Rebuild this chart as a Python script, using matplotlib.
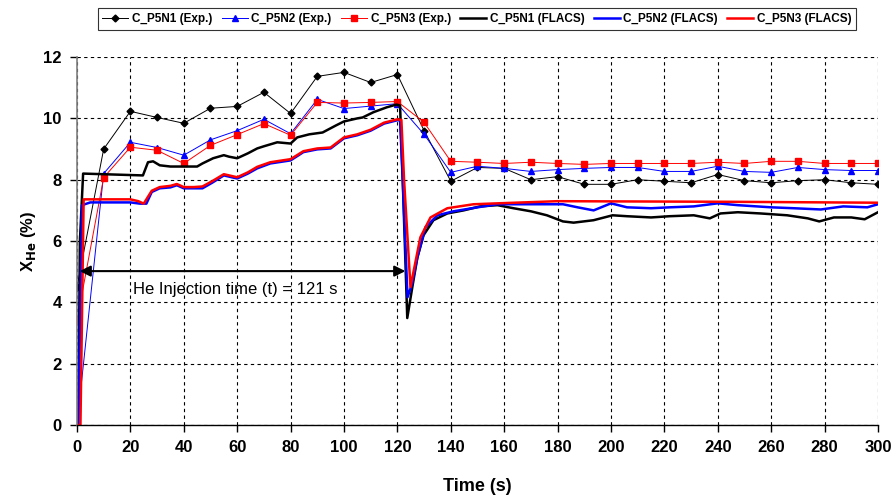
import matplotlib.pyplot as plt

plt.rcParams['font.family'] = ['Liberation Sans', 'DejaVu Sans']

# experimental points, every 10 s
t_exp = [0, 10, 20, 30, 40, 50, 60, 70, 80, 90, 100, 110, 120, 130, 140, 150,
         160, 170, 180, 190, 200, 210, 220, 230, 240, 250, 260, 270, 280, 290, 300]
n1_exp = [4.5, 9.0, 10.23, 10.03, 9.84, 10.33, 10.39, 10.85, 10.16, 11.37, 11.5,
          11.17, 11.43, 9.6, 7.95, 8.4, 8.37, 8.0, 8.1, 7.85, 7.85, 8.0, 7.95,
          7.9, 8.17, 7.97, 7.9, 7.97, 8.0, 7.9, 7.85]
n2_exp = [0.0, 8.2, 9.22, 9.05, 8.8, 9.3, 9.6, 9.97, 9.5, 10.62, 10.32, 10.4,
          10.48, 9.48, 8.24, 8.44, 8.37, 8.27, 8.33, 8.37, 8.4, 8.4, 8.27, 8.27,
          8.44, 8.27, 8.24, 8.4, 8.33, 8.3, 8.3]
n3_exp = [3.4, 8.07, 9.06, 8.96, 8.53, 9.12, 9.47, 9.83, 9.45, 10.52, 10.5, 10.52,
          10.55, 9.87, 8.6, 8.57, 8.53, 8.57, 8.53, 8.5, 8.53, 8.53, 8.53, 8.53,
          8.57, 8.53, 8.6, 8.6, 8.53, 8.53, 8.53]

# FLACS simulation
t_n1 = [0, 0.5, 1.1, 2.3, 24.7, 26.6, 28.5, 31, 35, 40, 45, 47, 51, 55, 57, 60,
        64, 67.5, 70, 75, 80, 82.5, 87, 92, 97, 100, 105, 107, 111, 116, 119.6,
        121, 122, 123.7, 125.6, 127.5, 129.8, 133.5, 138.7, 144.8, 151, 157.5,
        163.5, 170, 176, 182, 186, 193.5, 200.6, 206, 215, 222, 231, 237, 241,
        247.5, 256, 266, 273.7, 278, 283.5, 290, 295, 300]
n1_fl = [0, 0, 6.0, 8.2, 8.14, 8.57, 8.6, 8.47, 8.43, 8.43, 8.43, 8.53, 8.7, 8.8,
         8.75, 8.7, 8.86, 9.02, 9.09, 9.22, 9.18, 9.38, 9.48, 9.54, 9.77, 9.9,
         10.0, 10.03, 10.2, 10.36, 10.45, 10.42, 8.0, 3.49, 4.5, 5.47, 6.19,
         6.68, 6.9, 7.0, 7.13, 7.17, 7.07, 6.97, 6.84, 6.64, 6.6, 6.68, 6.84,
         6.81, 6.77, 6.81, 6.84, 6.74, 6.9, 6.94, 6.9, 6.84, 6.74, 6.64, 6.77,
         6.77, 6.71, 6.94]

t_n2 = [0, 0.5, 1.9, 5, 20, 23.6, 26, 28, 31, 35, 37.4, 40, 43.7, 47, 50.6, 55,
        60, 64, 67.5, 72.4, 80, 84.8, 90, 95, 100, 105, 110, 115, 120, 121, 122,
        123.8, 125.5, 127.5, 130.5, 135, 141, 150, 157.5, 170, 182, 187.5, 193.5,
        200, 206, 215, 222, 231, 240, 247.5, 260, 268.5, 278.6, 287, 296, 300]
n2_fl = [0, 0, 7.17, 7.26, 7.26, 7.22, 7.22, 7.6, 7.72, 7.75, 7.82, 7.72, 7.72,
         7.72, 7.9, 8.14, 8.04, 8.2, 8.37, 8.53, 8.63, 8.9, 8.99, 9.02, 9.35,
         9.45, 9.6, 9.83, 9.94, 9.94, 8.0, 4.17, 4.6, 5.47, 6.45, 6.84, 6.97,
         7.1, 7.2, 7.2, 7.2, 7.1, 7.0, 7.23, 7.1, 7.07, 7.1, 7.13, 7.23, 7.17,
         7.1, 7.07, 7.03, 7.13, 7.1, 7.2]

t_n3 = [0, 1.3, 2.5, 20, 23, 25, 28, 31, 35, 37.4, 40, 43.7, 47, 50.6, 55, 60,
        64, 67.5, 72.4, 80, 84.8, 90, 95, 100, 105, 110, 115, 120, 121.5, 122.5,
        124.9, 126.5, 128.6, 132.4, 138.7, 148.5, 157.5, 180, 245, 300]
n3_fl = [0, 0, 7.36, 7.36, 7.3, 7.22, 7.64, 7.76, 7.8, 7.86, 7.76, 7.76, 7.78,
         7.95, 8.18, 8.08, 8.24, 8.42, 8.57, 8.67, 8.93, 9.02, 9.05, 9.38, 9.48,
         9.63, 9.86, 9.97, 9.95, 8.0, 4.5, 5.2, 6.12, 6.77, 7.07, 7.2, 7.23,
         7.3, 7.28, 7.25]

fig = plt.figure(figsize=(8.95, 4.96), dpi=100)
ax = fig.add_axes([0.086, 0.143, 0.895, 0.742])

ax.plot(t_exp, n1_exp, color='black', lw=0.7, marker='D', ms=3.5, label='C_P5N1 (Exp.)')
ax.plot(t_exp, n2_exp, color='blue', lw=0.7, marker='^', ms=5, label='C_P5N2 (Exp.)')
ax.plot(t_exp, n3_exp, color='red', lw=0.7, marker='s', ms=4, label='C_P5N3 (Exp.)')
ax.plot(t_n1, n1_fl, color='black', lw=1.8, label='C_P5N1 (FLACS)')
ax.plot(t_n2, n2_fl, color='blue', lw=1.8, label='C_P5N2 (FLACS)')
ax.plot(t_n3, n3_fl, color='red', lw=1.8, label='C_P5N3 (FLACS)')

ax.annotate('', xy=(1, 5.02), xytext=(123, 5.02),
            arrowprops=dict(arrowstyle='<|-|>', color='black', lw=1.5,
                            mutation_scale=16, shrinkA=0, shrinkB=0))
ax.text(21, 4.28, 'He Injection time (t) = 121 s', fontsize=12, va='baseline')

ax.set_xlim(0, 300)
ax.set_ylim(0, 12)
ax.set_xticks(range(0, 301, 20))
ax.set_yticks(range(0, 13, 2))
ax.grid(True, color='black', ls=(0, (3, 3)), lw=0.8)
for s in ['top', 'right']:
    ax.spines[s].set_visible(False)
ax.spines['left'].set_color('grey')
ax.spines['left'].set_linewidth(1.2)
ax.spines['bottom'].set_linewidth(1.0)
ax.tick_params(labelsize=12, length=5, width=1, pad=6)
for lab in ax.get_xticklabels() + ax.get_yticklabels():
    lab.set_fontweight('bold')
ax.set_xlabel('Time (s)', fontsize=13, fontweight='bold', labelpad=16)
ax.set_ylabel('X$_{\\mathbf{He}}$ (%)', fontsize=12, fontweight='bold', labelpad=4)

leg = fig.legend(loc='upper center', bbox_to_anchor=(0.533, 0.995), ncol=6,
                 frameon=True, fancybox=False, edgecolor='black',
                 handlelength=2.2, columnspacing=0.8, handletextpad=0.3,
                 borderpad=0.4, prop={'weight': 'bold', 'size': 8.5})
leg.get_frame().set_linewidth(0.8)

fig.savefig('out.png', dpi=100)
